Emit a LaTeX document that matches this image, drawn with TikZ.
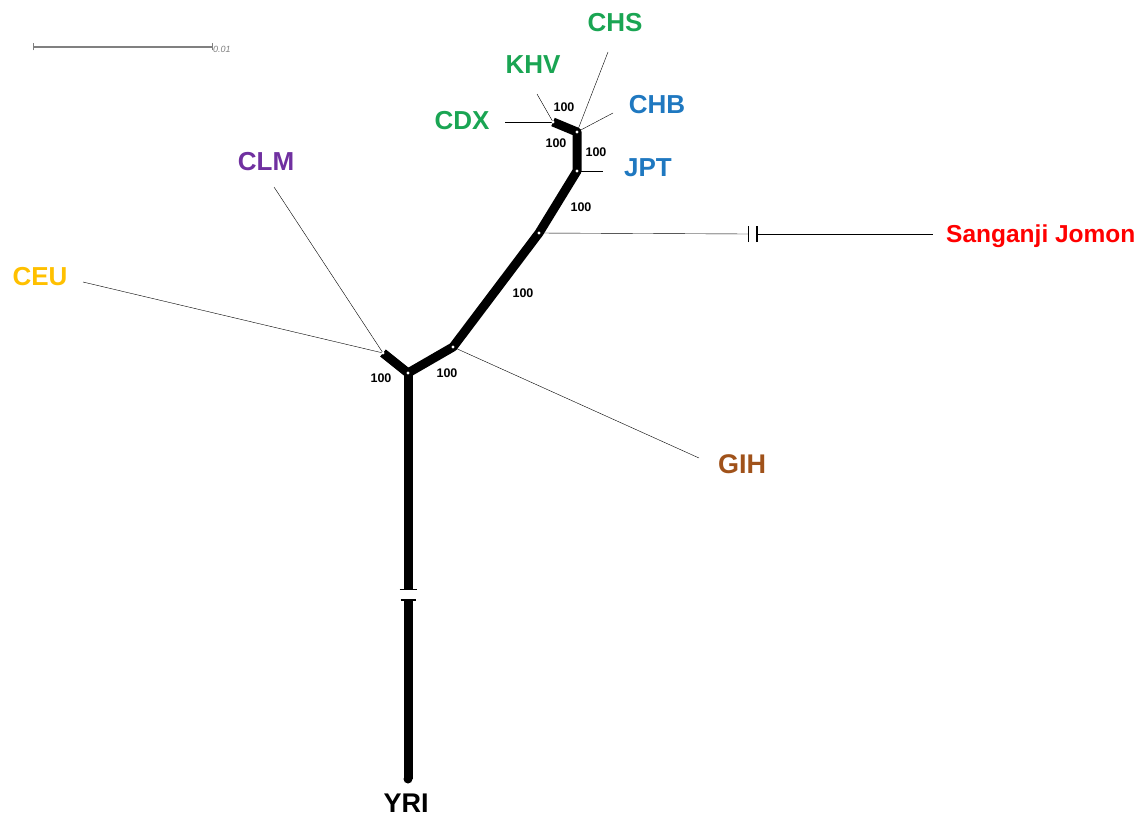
\documentclass[tikz,border=0pt]{standalone}
\usepackage{fontspec}
\setmainfont{Liberation Sans}
\definecolor{cgreen}{HTML}{1AA553}
\definecolor{cblue}{HTML}{1F78C0}
\definecolor{cpurple}{HTML}{7030A0}
\definecolor{cyellow}{HTML}{FFC000}
\definecolor{cbrown}{HTML}{A0521A}
\definecolor{cred}{HTML}{FF0000}
\definecolor{thin}{HTML}{4A4A4A}
\begin{document}
\begin{tikzpicture}[x=1pt,y=-1pt,
  thick edge/.style={line width=9pt,black,line join=round},
  thin edge/.style={line width=1.5pt,thin},
  inner/.style={circle,fill=white,inner sep=0pt,minimum size=3.4pt},
  taxon/.style={font=\fontsize{26}{28}\selectfont\bfseries,inner sep=0pt},
  boot/.style={font=\fontsize{12.5}{14}\selectfont\bfseries,inner sep=0pt},
  tick/.style={line width=1.4pt}]
\useasboundingbox (0,0) rectangle (1145,816);
% scale bar
\coordinate (sb1) at (33,47);
\coordinate (sb2) at (212,47);
\draw[gray,line width=1.2pt] (sb1) -- (sb2);
\draw[gray,line width=1pt] ([yshift=-3.5]sb1) -- ([yshift=3.5]sb1);
\draw[gray,line width=1pt] ([yshift=-3.5]sb2) -- ([yshift=3.5]sb2);
\node[anchor=west,inner sep=0pt,gray,font=\fontsize{9}{10}\selectfont\itshape] (sblab) at (213,49) {0.01};
% internal nodes
\coordinate (A) at (408,373);
\coordinate (B) at (383,353);
\coordinate (C) at (453,347);
\coordinate (D) at (539,233);
\coordinate (E) at (577,171);
\coordinate (F) at (577,132);
\coordinate (G) at (553,122);
% leaf ends
\coordinate (ceuE) at (83,282);
\coordinate (clmE) at (274,187);
\coordinate (gihE) at (699,458);
\coordinate (sjB1) at (748,234);
\coordinate (sjB2) at (757,234);
\coordinate (sjE) at (933,234);
\coordinate (jptE) at (603,171);
\coordinate (chbE) at (613,113);
\coordinate (chsE) at (608,52);
\coordinate (khvE) at (537,94);
\coordinate (cdxE) at (505,122);
\coordinate (yB1) at (408,589);
\coordinate (yB2) at (408,600);
\coordinate (yE) at (408,779);
% thin leaf edges
\draw[thin edge] (B) -- (ceuE);
\draw[thin edge] (B) -- (clmE);
\draw[thin edge] (C) -- (gihE);
\draw[thin edge] (D) -- (sjB1);
\draw[thin edge] (sjB2) -- (sjE);
\draw[tick,thin] ([yshift=-8]sjB1) -- ([yshift=8]sjB1);
\draw[tick,black] ([yshift=-8]sjB2) -- ([yshift=8]sjB2);
\draw[thin edge] (E) -- (jptE);
\draw[thin edge] (F) -- (chbE);
\draw[thin edge] (F) -- (chsE);
\draw[thin edge] (G) -- (khvE);
\draw[thin edge] (G) -- (cdxE);
% thick internal edges
\draw[thick edge] (B) -- (A) -- (C) -- (D) -- (E) -- (F) -- (G);
\draw[thick edge] (A) -- (yB1);
\draw[thick edge] (yB2) -- (yE);
\fill[black] (yE) circle (4.5pt);
\draw[tick,thin] ([xshift=-8.5]yB1) -- ([xshift=8.5]yB1);
\draw[tick,black] ([xshift=-7.5]yB2) -- ([xshift=7.5]yB2);
% inner dots
\foreach \n in {A,B,C,D,E,F,G} \node[inner] (dot\n) at (\n) {};
% taxon labels
\node[taxon,cgreen] (chs) at (615,23) {CHS};
\node[taxon,cgreen] (khv) at (533,65) {KHV};
\node[taxon,cgreen] (cdx) at (462,121) {CDX};
\node[taxon,cblue] (chb) at (657,105) {CHB};
\node[taxon,cblue] (jpt) at (648,168) {JPT};
\node[taxon,cpurple] (clm) at (266,162) {CLM};
\node[taxon,cyellow] (ceu) at (40,277) {CEU};
\node[taxon,cbrown,font=\fontsize{27}{29}\selectfont\bfseries] (gih) at (742,464) {GIH};
\node[taxon,cred,anchor=west,font=\fontsize{24.5}{27}\selectfont\bfseries] (sj) at (946,236) {Sanganji Jomon};
\node[taxon,black,font=\fontsize{27}{29}\selectfont\bfseries] (yri) at (406,803) {YRI};
% bootstrap labels
\node[boot] (b1) at (381,378) {100};
\node[boot] (b2) at (447,373) {100};
\node[boot] (b3) at (523,293) {100};
\node[boot] (b4) at (581,207) {100};
\node[boot] (b5) at (596,152) {100};
\node[boot] (b6) at (556,143) {100};
\node[boot] (b7) at (564,107) {100};
\end{tikzpicture}
\end{document}
